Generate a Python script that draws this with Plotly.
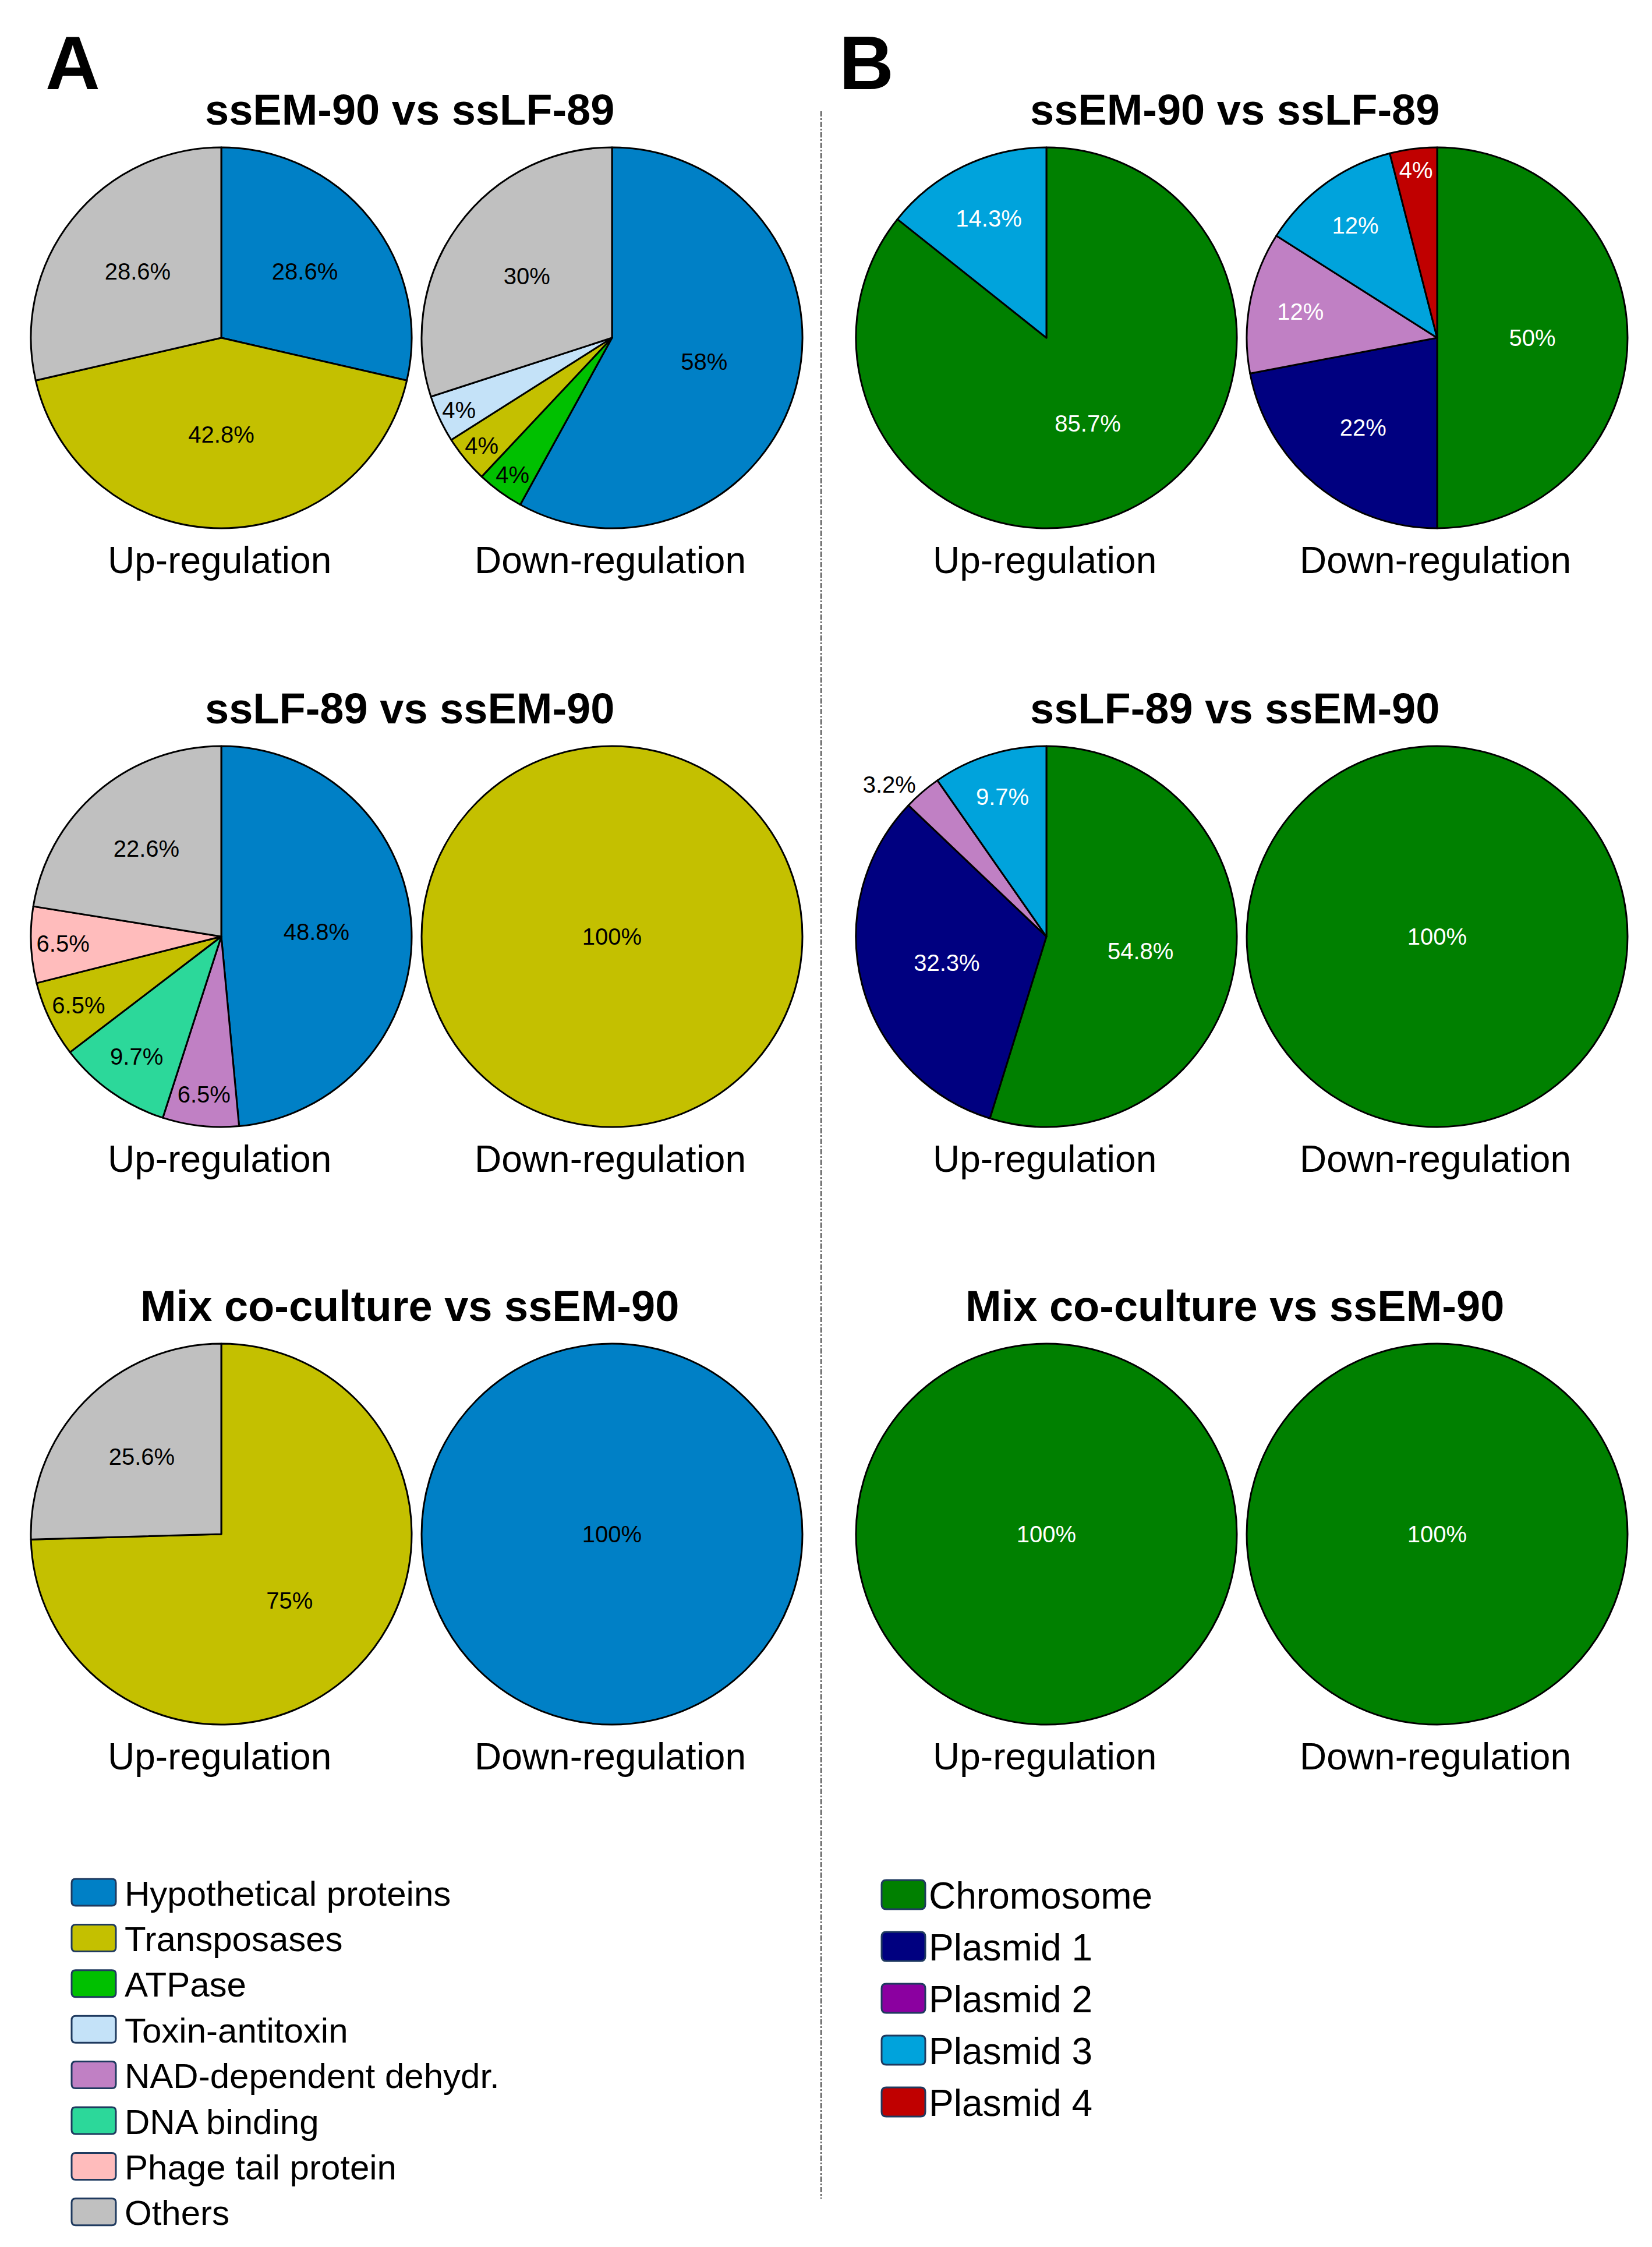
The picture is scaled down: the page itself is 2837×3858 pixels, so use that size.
import plotly.graph_objects as go

W, H = 2837, 3858
FONT = "Liberation Sans, Arial, sans-serif"

# ---- panel A: functional categories ----
func_names = ["Hypothetical proteins", "Transposases", "ATPase", "Toxin-antitoxin",
              "NAD-dependent dehydr.", "DNA binding", "Phage tail protein", "Others"]
func_colors = ["#0080C6", "#C4C000", "#00C000", "#C4E2F8",
               "#C080C4", "#2CD89A", "#FFBCBC", "#C0C0C0"]

a1_up_cats = ["Hypothetical proteins", "Transposases", "Others"]
a1_up_vals = [28.6, 42.8, 28.6]
a1_down_cats = ["Hypothetical proteins", "ATPase", "Transposases", "Toxin-antitoxin", "Others"]
a1_down_vals = [58, 4, 4, 4, 30]

a2_up_cats = ["Hypothetical proteins", "NAD-dependent dehydr.", "DNA binding",
              "Transposases", "Phage tail protein", "Others"]
a2_up_vals = [48.8, 6.5, 9.7, 6.5, 6.5, 22.6]
a2_down_cats = ["Transposases"]
a2_down_vals = [100]

a3_up_cats = ["Transposases", "Others"]
a3_up_vals = [75, 25.6]
a3_down_cats = ["Hypothetical proteins"]
a3_down_vals = [100]

# ---- panel B: genomic location ----
loc_names = ["Chromosome", "Plasmid 1", "Plasmid 2", "Plasmid 3", "Plasmid 4"]
loc_colors = ["#008000", "#000080", "#C080C4", "#00A3DC", "#C00000"]
loc_legend_colors = ["#008000", "#000080", "#8B00A0", "#00A3DC", "#C00000"]

b1_up_cats = ["Chromosome", "Plasmid 3"]
b1_up_vals = [85.7, 14.3]
b1_down_cats = ["Chromosome", "Plasmid 1", "Plasmid 2", "Plasmid 3", "Plasmid 4"]
b1_down_vals = [50, 22, 12, 12, 4]

b2_up_cats = ["Chromosome", "Plasmid 1", "Plasmid 2", "Plasmid 3"]
b2_up_vals = [54.8, 32.3, 3.2, 9.7]
b2_down_cats = ["Chromosome"]
b2_down_vals = [100]

b3_up_cats = ["Chromosome"]
b3_up_vals = [100]
b3_down_cats = ["Chromosome"]
b3_down_vals = [100]

row_titles = ["ssEM-90 vs ssLF-89", "ssLF-89 vs ssEM-90", "Mix co-culture vs ssEM-90"]
col_labels = ["Up-regulation", "Down-regulation"]

# layout in pixels
col_x = [372, 1043, 1789, 2460]
row_y = [572, 1600, 2626]
R = 327


def px(x):
    return x / W


def py(y):
    return 1 - y / H


def make_pie(cats, vals, names, colors, cx, cy, txtcolor, outside=()):
    cmap = dict(zip(names, colors))
    text = [f"{v:g}%" for v in vals]
    pos = ["outside" if i in outside else "inside" for i in range(len(vals))]
    tcol = ["black" if i in outside else txtcolor for i in range(len(vals))]
    return go.Pie(
        labels=cats, values=vals, text=text, textinfo="text",
        textposition=pos, insidetextorientation="horizontal",
        textfont=dict(family=FONT, size=40, color=tcol),
        marker=dict(colors=[cmap[c] for c in cats], line=dict(color="black", width=3)),
        sort=False, direction="clockwise", rotation=0, showlegend=False,
        hoverinfo="label+percent",
        domain=dict(x=[px(cx - R), px(cx + R)], y=[py(cy + R), py(cy - R)]),
    )


fig = go.Figure()

a_rows = [(a1_up_cats, a1_up_vals, a1_down_cats, a1_down_vals),
          (a2_up_cats, a2_up_vals, a2_down_cats, a2_down_vals),
          (a3_up_cats, a3_up_vals, a3_down_cats, a3_down_vals)]
b_rows = [(b1_up_cats, b1_up_vals, b1_down_cats, b1_down_vals),
          (b2_up_cats, b2_up_vals, b2_down_cats, b2_down_vals),
          (b3_up_cats, b3_up_vals, b3_down_cats, b3_down_vals)]

for r, (uc, uv, dc, dv) in enumerate(a_rows):
    fig.add_trace(make_pie(uc, uv, func_names, func_colors, col_x[0], row_y[r], "black"))
    fig.add_trace(make_pie(dc, dv, func_names, func_colors, col_x[1], row_y[r], "black"))

for r, (uc, uv, dc, dv) in enumerate(b_rows):
    outs = (2,) if r == 1 else ()
    fig.add_trace(make_pie(uc, uv, loc_names, loc_colors, col_x[2], row_y[r], "white", outs))
    fig.add_trace(make_pie(dc, dv, loc_names, loc_colors, col_x[3], row_y[r], "white"))

annotations = []
shapes = []


def label(x, y, text, size, anchor="center"):
    annotations.append(dict(x=px(x), y=py(y), xref="paper", yref="paper",
                            xanchor=anchor, yanchor="middle", text=text,
                            showarrow=False,
                            font=dict(family=FONT, size=size, color="black")))


# panel letters
label(117, 100, "<b>A</b>", 130)
label(1480, 100, "<b>B</b>", 130)

# row titles and up/down labels
for r, title in enumerate(row_titles):
    for c0 in (0, 2):
        xm = (col_x[c0] + col_x[c0 + 1]) / 2 - 12
        label(xm, row_y[r] - 392, f"<b>{title}</b>", 74)
        for k in range(2):
            label(col_x[c0 + k] - 3, row_y[r] + 382, col_labels[k], 64)


def rounded_rect(x0, y0, x1, y1, rad):
    # pixel coords -> paper path with rounded corners
    X = lambda v: f"{px(v):.6f}"
    Y = lambda v: f"{py(v):.6f}"
    return (f"M {X(x0 + rad)},{Y(y0)} L {X(x1 - rad)},{Y(y0)} Q {X(x1)},{Y(y0)} {X(x1)},{Y(y0 + rad)} "
            f"L {X(x1)},{Y(y1 - rad)} Q {X(x1)},{Y(y1)} {X(x1 - rad)},{Y(y1)} "
            f"L {X(x0 + rad)},{Y(y1)} Q {X(x0)},{Y(y1)} {X(x0)},{Y(y1 - rad)} "
            f"L {X(x0)},{Y(y0 + rad)} Q {X(x0)},{Y(y0)} {X(x0 + rad)},{Y(y0)} Z")


# legend A
for i, (name, col) in enumerate(zip(func_names, func_colors)):
    yc = 3241 + i * 78.4
    shapes.append(dict(type="path", xref="paper", yref="paper",
                       path=rounded_rect(115, yc - 23, 191, yc + 23, 7),
                       fillcolor=col, line=dict(color="#1F3A5F", width=3)))
    label(204, yc + 2, name, 60, "left")

# legend B
for i, (name, col) in enumerate(zip(loc_names, loc_legend_colors)):
    yc = 3245 + i * 89
    shapes.append(dict(type="path", xref="paper", yref="paper",
                       path=rounded_rect(1506, yc - 25, 1581, yc + 25, 8),
                       fillcolor=col, line=dict(color="#1F3A5F", width=3)))
    label(1585, yc + 2, name, 64, "left")

# dashed divider
shapes.append(dict(type="line", xref="paper", yref="paper",
                   x0=px(1402), x1=px(1402), y0=py(183), y1=py(3767),
                   line=dict(color="#444444", width=2, dash="dashdot")))

fig.update_layout(
    width=W, height=H,
    margin=dict(l=0, r=0, t=0, b=0),
    paper_bgcolor="white", plot_bgcolor="white",
    uniformtext=dict(minsize=40, mode="show"),
    annotations=annotations, shapes=shapes,
)

fig.write_html("out.html")
